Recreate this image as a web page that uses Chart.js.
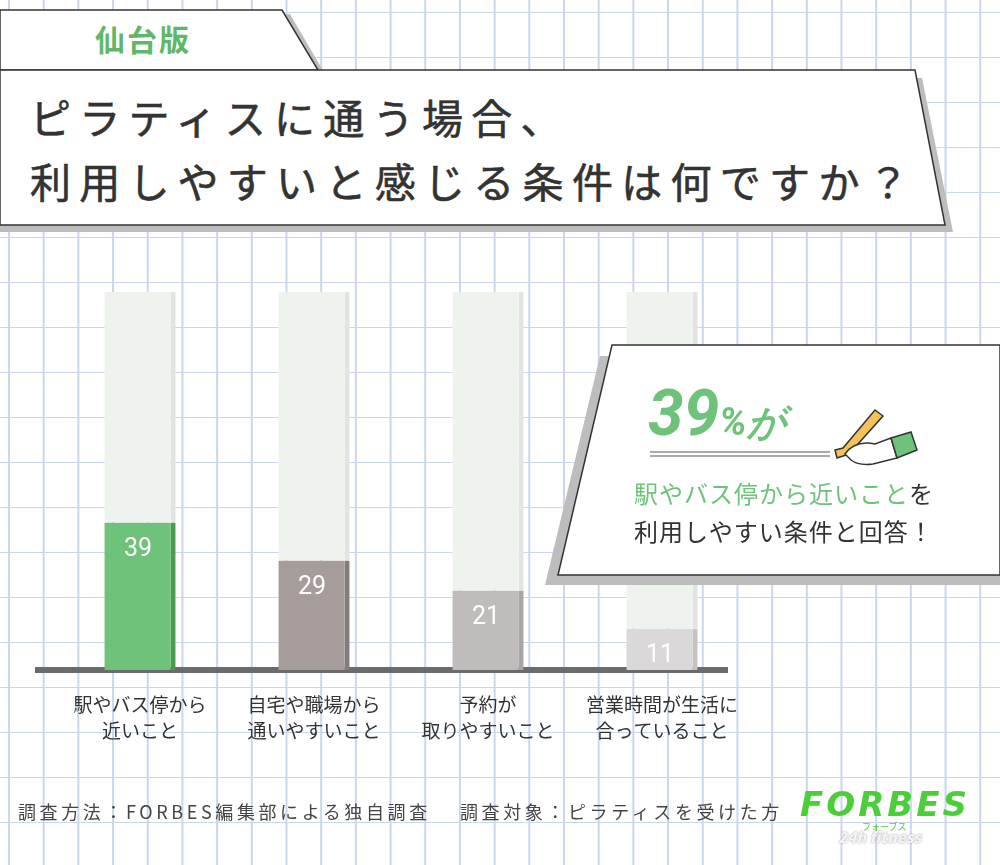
<!DOCTYPE html>
<html><head><meta charset="utf-8">
<script src="https://cdn.jsdelivr.net/npm/chart.js@4.4.0/dist/chart.umd.min.js"></script>
<style>
body{margin:0;width:1000px;height:865px;overflow:hidden;font-family:"Noto Sans CJK JP","Noto Sans",sans-serif;}
#bg{position:absolute;left:0;top:0;width:1000px;height:865px;background-color:#fff;
background-image:linear-gradient(#c9d6ee 1.5px,transparent 1.5px),linear-gradient(90deg,#c9d6ee 1.5px,transparent 1.5px);
background-size:34.7px 45px;background-position:8px 12px;}
.abs{position:absolute;}
</style></head><body>
<div id="bg"></div>
<svg class="abs" style="left:0;top:0" width="1000" height="865">
  <polygon points="0,14 290,14 325,74 0,74" fill="#bdbdbd"/>
  <polygon points="0,10 282,10 318,70 0,70" fill="#fff" stroke="#333" stroke-width="1.5"/>
  <polygon points="0,78 922,78 953,232 0,232" fill="#bdbdbd"/>
  <polygon points="0,70 915,70 945,225 0,225" fill="#fff" stroke="#333" stroke-width="1.5"/>
</svg>
<div class="abs" style="left:95px;top:16px;font-size:30px;font-weight:bold;color:#5fb868;letter-spacing:2px">仙台版</div>
<div class="abs" style="left:30px;top:84px;font-size:41px;color:#333;letter-spacing:8.3px;line-height:64px;-webkit-text-stroke:0.6px #333">ピラティスに通う場合、<br>利用しやすいと感じる条件は何ですか？</div>
<div class="abs" style="left:35px;top:667px;width:693px;height:6px;background:#6b6b6b"></div>
<div class="abs" style="left:0;top:280px;width:760px;height:490px"><canvas id="c" width="760" height="490"></canvas></div>
<svg class="abs" style="left:0;top:0" width="1000" height="865">
  <polygon points="600,356 1000,356 1000,585 545,585" fill="#bdbdbd"/>
  <polygon points="612,345 1000,345 1000,575 558,575" fill="#fff" stroke="#333" stroke-width="1.5"/>
  <line x1="650" y1="452" x2="830" y2="452" stroke="#555" stroke-width="1.2"/>
  <line x1="650" y1="456" x2="830" y2="456" stroke="#555" stroke-width="1.2"/>
  <g transform="translate(835,410)">
    <polygon points="0,40 8,38 40,0 48,6 14,44 2,48" fill="#f3c35a" stroke="#333" stroke-width="1.5"/>
    <path d="M10,44 q10,-14 30,-10 l16,-6 l6,20 l-24,6 q-14,2 -22,-4z" fill="#fff" stroke="#333" stroke-width="1.5"/>
    <polygon points="56,28 76,22 82,40 62,48" fill="#6fc27a" stroke="#333" stroke-width="1.5"/>
  </g>
</svg>
<div class="abs" style="left:648px;top:378px;font-size:64px;font-weight:bold;font-style:italic;color:#6fc27a;font-family:Roboto,sans-serif;line-height:72px">39<span style="font-size:38px">%が</span></div>
<div class="abs" style="left:634px;top:474px;font-size:24px;color:#333;line-height:38px;letter-spacing:1px"><span style="color:#6fc27a">駅やバス停から近いこと</span>を<br>利用しやすい条件と回答！</div>
<div class="abs" style="left:18px;top:798px;font-size:18px;color:#444;letter-spacing:3.6px">調査方法：FORBES編集部による独自調査　 調査対象：ピラティスを受けた方</div>
<div class="abs" style="left:800px;top:784px;font-size:34px;font-weight:900;font-style:italic;color:#4ccd3a;font-family:'DejaVu Sans',sans-serif;letter-spacing:3px">FORBES</div>
<div class="abs" style="left:862px;top:820px;font-size:9px;color:#4ccd3a">フォーブス</div>
<div class="abs" style="left:838px;top:826px;font-size:15px;font-weight:900;font-style:italic;color:#f4f4f4;text-shadow:0 0 2px #999">24h fitness</div>
<script>
const categories=[["駅やバス停から","近いこと"],["自宅や職場から","通いやすいこと"],["予約が","取りやすいこと"],["営業時間が生活に","合っていること"]];
const values=[39,29,21,11];
const rest=values.map(v=>100-v);
const fills=["#6fc27a","#a69d9b","#c0bcbb","#dad8d8"];
const edges=["#4a9a52","#857b7a","#a9a5a4","#c4c2c2"];
const labelPlugin={id:"lbl",afterDatasetsDraw(ch){const m=ch.getDatasetMeta(0);const ctx=ch.ctx;ctx.save();ctx.fillStyle="#fff";ctx.font="25px Roboto, sans-serif";ctx.textAlign="center";ctx.textBaseline="middle";
m.data.forEach((b,i)=>{ctx.fillText(values[i],b.x-2,b.y+27);});ctx.restore();}};
new Chart(document.getElementById("c"),{type:"bar",
data:{labels:categories,datasets:[
{data:values,backgroundColor:fills,borderColor:edges,borderWidth:{right:5,top:0,left:0,bottom:0},borderSkipped:false,barPercentage:0.82,categoryPercentage:0.5},
{data:rest,backgroundColor:"#eff3ee",borderColor:"#e2e4e2",borderWidth:{right:5,top:0,left:0,bottom:0},borderSkipped:false,barPercentage:0.82,categoryPercentage:0.5}]},
options:{responsive:false,animation:false,layout:{padding:{left:53,right:11,top:12}},
plugins:{legend:{display:false},tooltip:{enabled:false}},
scales:{x:{stacked:true,grid:{display:false},border:{display:false},afterFit:s=>{s.height=100;},ticks:{padding:13,color:"#333",font:{size:19,family:"Noto Sans CJK JP",lineHeight:1.4}}},
y:{stacked:true,display:false,min:0,max:100}}},plugins:[labelPlugin]});
</script>
</body></html>
